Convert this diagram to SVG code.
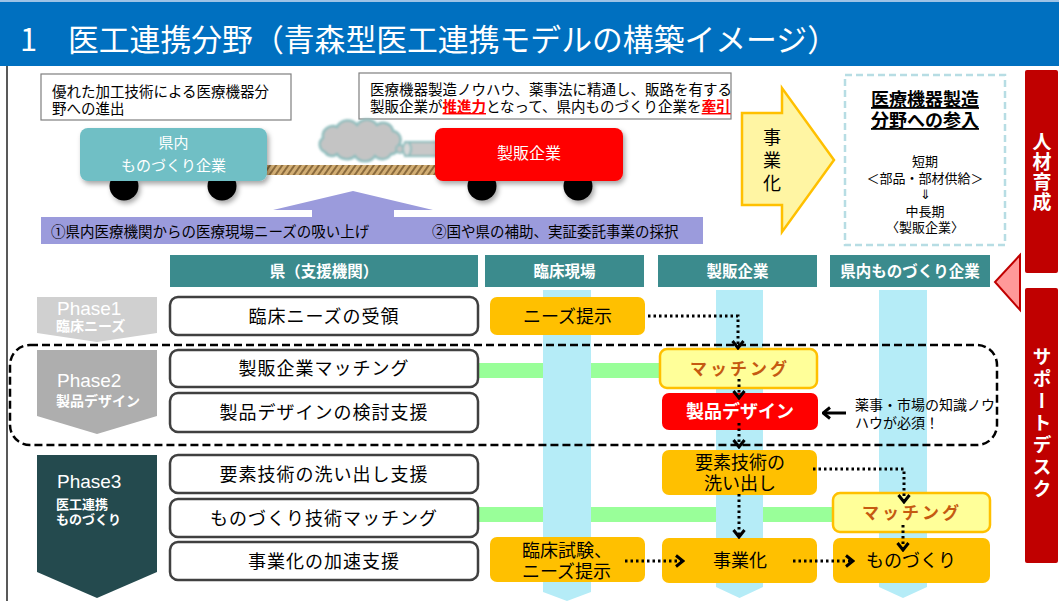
<svg xmlns="http://www.w3.org/2000/svg" width="1059" height="601" viewBox="0 0 1059 601">
  <style>
    text { font-family: "Noto Sans CJK JP", "Noto Sans", sans-serif; fill: #000; }
    .jp { font-family: "Noto Sans CJK JP", sans-serif; }
    .latin { font-family: "Liberation Sans", Arial, sans-serif; }
    .white { fill: #fff; }
    .mid { text-anchor: middle; }
    .note { fill: #fff; stroke: #7f7f7f; stroke-width: 1.2; }
    .colhead { fill: #3b8b8d; }
    .colhead-t { fill: #fff; font-size: 15.5px; text-anchor: middle; font-weight: bold; }
    .lane { fill: #b5ecf7; }
    .green { fill: #99ff99; }
    .step { fill: #fff; stroke: #404040; stroke-width: 2.5; }
    .step-t { font-size: 18px; text-anchor: middle; letter-spacing: 1px; }
    .orange { fill: #ffc000; }
    .match { fill: #ffff99; stroke: #ffc000; stroke-width: 2.5; }
    .match-t { fill: #c55a11; font-size: 17px; font-weight: bold; text-anchor: middle; letter-spacing: 3px; }
    .box-t { font-size: 18px; text-anchor: middle; }
    .dot { fill: none; stroke: #000; stroke-width: 3; stroke-dasharray: 2.5 3; marker-end: url(#chev); }
    .wheel { fill: #000; }
    .vert { writing-mode: vertical-rl; text-orientation: upright; }
  </style>
  <defs>
    <marker id="chev" viewBox="0 0 10 14" refX="8.5" refY="7" markerWidth="10" markerHeight="14" markerUnits="userSpaceOnUse" orient="auto">
      <path d="M1.5,1.5 L8.5,7 L1.5,12.5" fill="none" stroke="#000" stroke-width="3" stroke-dasharray="none"/>
    </marker>
    <pattern id="rope" width="5" height="10" patternUnits="userSpaceOnUse" patternTransform="rotate(35)">
      <rect width="5" height="10" fill="#d2ae74"/>
      <rect width="2" height="10" fill="#8b6b3d"/>
    </pattern>
    <filter id="shadow" x="-10%" y="-10%" width="130%" height="140%">
      <feDropShadow dx="2" dy="3" stdDeviation="2.5" flood-color="#000" flood-opacity="0.35"/>
    </filter>
    <filter id="soft" x="-10%" y="-20%" width="120%" height="140%">
      <feGaussianBlur stdDeviation="0.8"/>
    </filter>
  </defs>

  <!-- page background and frame -->
  <rect width="1059" height="601" fill="#fff"/>
  <rect x="0" y="0" width="1059" height="66" fill="#0070c0"/>
  <line x1="0" y1="1" x2="1059" y2="1" stroke="#9dc3e6" stroke-width="2"/>
  <line x1="7" y1="66" x2="7" y2="601" stroke="#222" stroke-width="1.5"/>
  <text x="20" y="51" class="white" font-size="31" textLength="818" lengthAdjust="spacingAndGlyphs">1　医工連携分野（青森型医工連携モデルの構築イメージ）</text>

  <!-- upper section: the two carts pulled by a rope -->
  <g id="note-left">
    <rect x="41" y="74" width="250" height="46" class="note"/>
    <text x="52" y="97" font-size="14.5">優れた加工技術による医療機器分</text>
    <text x="52" y="114" font-size="14.5">野への進出</text>
  </g>
  <g id="note-center">
    <rect x="359" y="73" width="372" height="46" class="note"/>
    <text x="370" y="95" font-size="14.5">医療機器製造ノウハウ、薬事法に精通し、販路を有する</text>
    <text x="370" y="112" font-size="14.5">製販企業が<tspan fill="#ff0000" font-weight="bold" text-decoration="underline">推進力</tspan>となって、県内ものづくり企業を<tspan fill="#ff0000" font-weight="bold" text-decoration="underline">牽引</tspan></text>
  </g>

  <g id="support-arrow">
    <path d="M41,217 L312,217 L312,210 L273,210 L353,191 L433,210 L394,210 L394,217 L703,217 L703,244 L41,244 Z" fill="#9b9bdc"/>
    <text x="51" y="237" font-size="14.5">①県内医療機関からの医療現場ニーズの吸い上げ</text>
    <text x="432" y="237" font-size="14.5">②国や県の補助、実証委託事業の採択</text>
  </g>

  <g id="rope">
    <rect x="265" y="165" width="172" height="10" fill="url(#rope)"/>
  </g>

  <g id="smoke" filter="url(#soft)">
    <path d="M325,152 a8,8 0 0,1 -2,-14 a10,10 0 0,1 14,-11 a12,12 0 0,1 20,-2 a12,12 0 0,1 20,0 a10,10 0 0,1 16,6 a9,9 0 0,1 6,14 a8,8 0 0,1 -8,9 a10,10 0 0,1 -16,2 a12,12 0 0,1 -20,0 a12,12 0 0,1 -18,-2 a8,8 0 0,1 -12,-2 Z" fill="#c4c4c4" stroke="#8fbdbd" stroke-width="2.5"/>
    <circle cx="400" cy="149" r="4" fill="#c4c4c4" stroke="#8fbdbd" stroke-width="2"/>
    <rect x="405" y="142" width="32" height="14" fill="#c8c8c8" stroke="#8fbdbd" stroke-width="2"/>
    <ellipse cx="407" cy="149" rx="4" ry="7" fill="#d8d8d8" stroke="#8fbdbd" stroke-width="2"/>
  </g>

  <g id="cart-local" filter="url(#shadow)">
    <circle cx="124" cy="186" r="14.5" class="wheel"/>
    <circle cx="222" cy="186" r="14.5" class="wheel"/>
    <rect x="80" y="128" width="187" height="53" rx="8" fill="#6fbfc5"/>
  </g>
  <text x="173.5" y="148" font-size="15" class="white mid">県内</text>
  <text x="173.5" y="171" font-size="15" class="white mid">ものづくり企業</text>

  <g id="cart-maker" filter="url(#shadow)">
    <circle cx="482" cy="186" r="14.5" class="wheel"/>
    <circle cx="578" cy="186" r="14.5" class="wheel"/>
    <rect x="435" y="128" width="188" height="53" rx="8" fill="#ff0000"/>
  </g>
  <text x="529" y="159" font-size="16" class="white mid">製販企業</text>

  <g id="commercialize-arrow">
    <path d="M742,113 L782,113 L782,88 L834,160 L782,232 L782,205 L742,205 Z" fill="#fff5a3" stroke="#ffc000" stroke-width="2.5" stroke-linejoin="miter"/>
    <text x="772" y="128" font-size="18" class="vert" letter-spacing="5">事業化</text>
  </g>

  <g id="entry-box">
    <rect x="845" y="75" width="160" height="170" fill="none" stroke="#b7dde4" stroke-width="2.5" stroke-dasharray="7 4"/>
    <text x="925" y="106" font-size="18" class="mid" text-decoration="underline" font-weight="bold">医療機器製造</text>
    <text x="925" y="127" font-size="18" class="mid" text-decoration="underline" font-weight="bold">分野への参入</text>
    <text x="925" y="166" font-size="13" class="mid">短期</text>
    <text x="925" y="183" font-size="13" class="mid">＜部品・部材供給＞</text>
    <text x="925" y="199" font-size="13" class="mid">⇓</text>
    <text x="925" y="216" font-size="13" class="mid">中長期</text>
    <text x="925" y="232" font-size="13" class="mid">〈製販企業〉</text>
  </g>

  <!-- right-hand side bars -->
  <g id="hr-bar">
    <rect x="1025" y="70" width="33" height="203" rx="2" fill="#c00000"/>
    <text x="1042" y="132" font-size="19" font-weight="bold" class="white vert" letter-spacing="1">人材育成</text>
  </g>
  <g id="support-desk">
    <rect x="1025" y="288" width="33" height="275" rx="2" fill="#c00000"/>
    <text x="1042" y="347" font-size="19" font-weight="bold" class="white vert" letter-spacing="3">サポートデスク</text>
  </g>
  <g id="desk-pointer">
    <path d="M1020,255 L995,282 L1020,310 Z" fill="#ff9999" stroke="#c00000" stroke-width="2" stroke-linejoin="miter"/>
  </g>

  <!-- swim lane headers -->
  <g id="col-pref">
    <rect x="170" y="255" width="308" height="32" class="colhead"/>
    <text x="324" y="277" class="colhead-t">県（支援機関）</text>
  </g>
  <g id="col-clinic">
    <rect x="485" y="255" width="159" height="32" class="colhead"/>
    <text x="564.5" y="277" class="colhead-t">臨床現場</text>
  </g>
  <g id="col-maker">
    <rect x="658" y="255" width="159" height="32" class="colhead"/>
    <text x="737.5" y="277" class="colhead-t">製販企業</text>
  </g>
  <g id="col-local">
    <rect x="830" y="255" width="160" height="32" class="colhead"/>
    <text x="910" y="277" class="colhead-t" font-size="15">県内ものづくり企業</text>
  </g>

  <!-- matching bands, then the lanes over them -->
  <rect x="478" y="363" width="182" height="15" class="green"/>
  <rect x="478" y="507" width="355" height="15" class="green"/>
  <path d="M543,290 L591,290 L591,592 L567,601 L543,592 Z" class="lane"/>
  <path d="M716,290 L763,290 L763,587 L739.5,598 L716,587 Z" class="lane"/>
  <path d="M879,290 L927,290 L927,587 L903,598 L879,587 Z" class="lane"/>

  <!-- phases -->
  <g id="phase1">
    <path d="M37,297 L157,297 L157,333 L97,342 L37,333 Z" fill="#d0d0d0"/>
    <text x="57" y="315" font-size="19" class="latin white">Phase1</text>
    <text x="56" y="331" font-size="14" class="white" font-weight="bold">臨床ニーズ</text>
  </g>
  <g id="phase2">
    <path d="M37,350 L157,350 L157,416 L97,434 L37,416 Z" fill="#aeaeae"/>
    <text x="57" y="387" font-size="19" class="latin white">Phase2</text>
    <text x="56" y="406" font-size="14" class="white" font-weight="bold">製品デザイン</text>
  </g>
  <g id="phase3">
    <path d="M37,455 L157,455 L157,572 L97,598 L37,572 Z" fill="#244a4e"/>
    <text x="57" y="488" font-size="19" class="latin white">Phase3</text>
    <text x="56" y="509" font-size="13" class="white" font-weight="bold">医工連携</text>
    <text x="56" y="524" font-size="13" class="white" font-weight="bold">ものづくり</text>
  </g>

  <!-- prefecture support steps -->
  <g id="step-needs">
    <rect x="170" y="297" width="308" height="38" rx="8" class="step"/>
    <text x="324" y="322.5" class="step-t">臨床ニーズの受領</text>
  </g>
  <g id="step-maker-matching">
    <rect x="170" y="350" width="308" height="37" rx="8" class="step"/>
    <text x="324" y="375" class="step-t">製販企業マッチング</text>
  </g>
  <g id="step-design">
    <rect x="170" y="393" width="308" height="39" rx="8" class="step"/>
    <text x="324" y="419" class="step-t">製品デザインの検討支援</text>
  </g>
  <g id="step-tech">
    <rect x="170" y="455" width="308" height="38" rx="8" class="step"/>
    <text x="324" y="480.5" class="step-t">要素技術の洗い出し支援</text>
  </g>
  <g id="step-mfg-matching">
    <rect x="170" y="499" width="308" height="38" rx="8" class="step"/>
    <text x="324" y="524.5" class="step-t">ものづくり技術マッチング</text>
  </g>
  <g id="step-accel">
    <rect x="170" y="542" width="308" height="38" rx="8" class="step"/>
    <text x="324" y="567.5" class="step-t">事業化の加速支援</text>
  </g>

  <!-- lane activities -->
  <g id="needs-present">
    <rect x="490" y="297" width="155" height="38" rx="7" class="orange"/>
    <text x="567.5" y="322.5" class="box-t">ニーズ提示</text>
  </g>
  <g id="maker-match">
    <rect x="660" y="349" width="157" height="39" rx="7" class="match"/>
    <text x="740" y="375" class="match-t">マッチング</text>
  </g>
  <g id="product-design">
    <rect x="662" y="393" width="156" height="37" rx="7" fill="#ff0000"/>
    <text x="740" y="418" class="box-t white" font-weight="bold">製品デザイン</text>
  </g>
  <g id="design-note">
    <text x="855" y="410" font-size="14">薬事・市場の知識ノウ</text>
    <text x="855" y="428" font-size="14">ハウが必須！</text>
  </g>
  <g id="tech-review">
    <rect x="662" y="450" width="155" height="45" rx="7" class="orange"/>
    <text x="740" y="469" class="box-t">要素技術の</text>
    <text x="740" y="490" class="box-t">洗い出し</text>
  </g>
  <g id="local-match">
    <rect x="833" y="493" width="157" height="39" rx="7" class="match"/>
    <text x="912" y="519" class="match-t">マッチング</text>
  </g>
  <g id="trial">
    <rect x="490" y="537" width="155" height="45" rx="7" class="orange"/>
    <text x="522" y="557" font-size="18">臨床試験、</text>
    <text x="522" y="578" font-size="18">ニーズ提示</text>
  </g>
  <g id="business">
    <rect x="662" y="538" width="155" height="45" rx="7" class="orange"/>
    <text x="740" y="567" class="box-t">事業化</text>
  </g>
  <g id="manufacturing">
    <rect x="833" y="538" width="157" height="45" rx="7" class="orange"/>
    <text x="911" y="567" class="box-t">ものづくり</text>
  </g>

  <!-- phase 2 grouping -->
  <rect x="10" y="345" width="987" height="100" rx="20" fill="none" stroke="#000" stroke-width="2.5" stroke-dasharray="8 4"/>

  <!-- connectors -->
  <g id="connectors">
    <path d="M648,316 L738,316 L738,348" class="dot"/>
    <path d="M739,379 L739,398" class="dot"/>
    <path d="M739,423 L739,447" class="dot"/>
    <path d="M813,469 L904,469 L904,502" class="dot"/>
    <path d="M739,494 L739,537" class="dot"/>
    <path d="M903,525 L903,550" class="dot"/>
    <path d="M625,561 L683,561" class="dot"/>
    <path d="M793,561 L853,561" class="dot"/>
    <path d="M846,413 L823,413" fill="none" stroke="#000" stroke-width="3" marker-end="url(#chev)"/>
  </g>
</svg>
